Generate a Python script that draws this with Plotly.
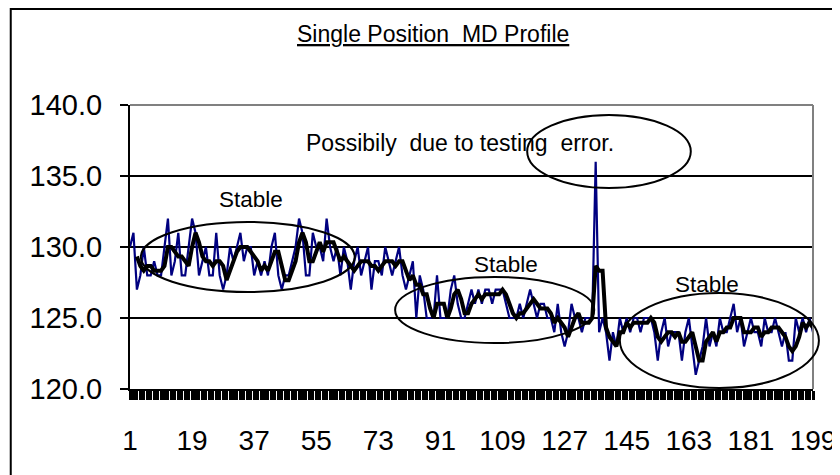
import plotly.graph_objects as go
import pandas as pd

# ---------------- data ----------------
positions = list(range(1, 200))

md_values_a = [130, 131, 127, 128, 130, 128, 128, 129, 128, 128, 130, 132, 128, 129, 131, 128, 128,
               130, 132, 131, 128, 129, 130, 128, 128, 131, 128, 127, 128, 130, 129, 130, 131, 129,
               130, 130, 128, 129, 128, 129, 128, 130, 131, 128, 127, 128, 128, 129, 130]
md_values_b = [132, 131, 128, 128, 131, 130, 130, 129, 132, 130, 129, 130, 128, 130, 129, 127, 129,
               130, 128, 129, 130, 127, 129, 129, 128, 130, 129, 128, 129, 130, 128]
md_values_c = [127, 128, 129, 125, 128, 127, 125, 125, 125, 128, 125, 125, 125, 127, 128, 126, 125,
               125, 126, 127]
md_values_d = [126, 127, 126, 127, 127, 126, 127, 127, 127, 126, 125, 125, 125, 126, 125, 126, 127,
               126, 125, 126, 126, 125, 125, 124, 126, 124, 123, 124, 126, 125, 125, 124, 125, 125,
               125, 136, 124, 125, 124, 122]
md_values_e = [124, 123, 125, 124, 125, 124, 125, 125, 124, 125, 125, 125, 124, 122, 124, 125, 123,
               124, 124, 124, 122, 124, 125, 123, 121, 122, 123, 125, 123, 124, 123, 125, 124, 124,
               125, 126, 124, 125, 123, 124, 125, 124, 124, 123, 125, 124, 124, 125, 124, 123, 124,
               122, 122, 125, 124, 125, 124, 125, 124]
md_values = md_values_a + md_values_b + md_values_c + md_values_d + md_values_e

ma_period = 3
y_tick_values = [120, 125, 130, 135, 140]
x_tick_start, x_tick_step = 1, 18
title_text = "<u>Single Position  MD Profile</u>"
stable_text = "Stable"
error_text = "Possibily  due to testing  error."

# ---------------- layout helpers (window pixel -> paper) ----------------
OFF = 8  # page body margin
W, H = 840, 475
ML, MT = 122, 97
MR, MB = W - 815, H - 381
PW, PH = W - ML - MR, H - MT - MB


def pxx(x):
    return (x - OFF - ML) / PW


def pxy(y):
    return (H - MB - (y - OFF)) / PH


FONT = "Liberation Sans, Arial, sans-serif"

moving_avg = pd.Series(md_values).rolling(ma_period).mean()

fig = go.Figure()
fig.add_trace(go.Scatter(x=positions, y=md_values, mode="lines",
                         line=dict(color="#000080", width=2.2), showlegend=False,
                         hoverinfo="skip"))
fig.add_trace(go.Scatter(x=positions, y=moving_avg, mode="lines",
                         line=dict(color="black", width=4), showlegend=False,
                         hoverinfo="skip"))

shapes = []
# outer chart border
shapes.append(dict(type="rect", xref="paper", yref="paper",
                   x0=pxx(9), x1=pxx(900), y0=pxy(9), y1=pxy(520),
                   line=dict(color="black", width=2), layer="above"))
# plot area top / right border (gray)
shapes.append(dict(type="line", xref="paper", yref="paper", x0=0, x1=1, y0=1, y1=1,
                   line=dict(color="#808080", width=2), layer="above"))
shapes.append(dict(type="line", xref="paper", yref="paper", x0=1, x1=1, y0=0, y1=1,
                   line=dict(color="#808080", width=2), layer="above"))
# ellipses
for (x0, x1, y0, y1) in [(141, 358, 222, 292), (399, 601, 277, 343),
                         (627, 829, 293, 388), (533, 699, 115, 188)]:
    shapes.append(dict(type="circle", xref="paper", yref="paper",
                       x0=pxx(x0), x1=pxx(x1), y0=pxy(y1), y1=pxy(y0),
                       line=dict(color="black", width=2), layer="above"))

annotations = []
for (txt, cx, cy, fs) in [(stable_text, 253, 199, 22.5), (error_text, 465, 143, 23),
                          (stable_text, 512, 264, 22.5), (stable_text, 715, 284, 22.5)]:
    annotations.append(dict(text=txt, x=pxx(cx), y=pxy(cy), xref="paper", yref="paper",
                            showarrow=False, xanchor="center", yanchor="middle",
                            font=dict(family=FONT, size=fs, color="black")))
annotations.append(dict(text=title_text, x=pxx(437), y=pxy(34), xref="paper", yref="paper",
                        showarrow=False, xanchor="center", yanchor="middle",
                        font=dict(family=FONT, size=23, color="black")))

fig.update_layout(
    width=W, height=H,
    margin=dict(l=ML, r=MR, t=MT, b=MB, pad=0),
    paper_bgcolor="white", plot_bgcolor="white",
    shapes=shapes, annotations=annotations,
    font=dict(family=FONT, color="black"),
    xaxis=dict(range=[1, 199], tickmode="linear", tick0=x_tick_start, dtick=x_tick_step,
               showgrid=False, zeroline=False, showline=True, linecolor="black", linewidth=2,
               ticks="outside", ticklen=9, tickwidth=3, tickcolor="black",
               minor=dict(tick0=1, dtick=1, ticks="outside", ticklen=9, tickwidth=3,
                          tickcolor="black", showgrid=False),
               tickfont=dict(family=FONT, size=28, color="black"),
               ticklabelstandoff=16),
    yaxis=dict(range=[120, 140], tickmode="array", tickvals=y_tick_values, tickformat=".1f",
               showgrid=True, gridcolor="black", gridwidth=2, zeroline=False,
               showline=True, linecolor="black", linewidth=2,
               ticks="outside", ticklen=8, tickwidth=2, tickcolor="black",
               tickfont=dict(family=FONT, size=29, color="black"),
               ticklabelstandoff=12),
)

fig.write_html("out.html")
